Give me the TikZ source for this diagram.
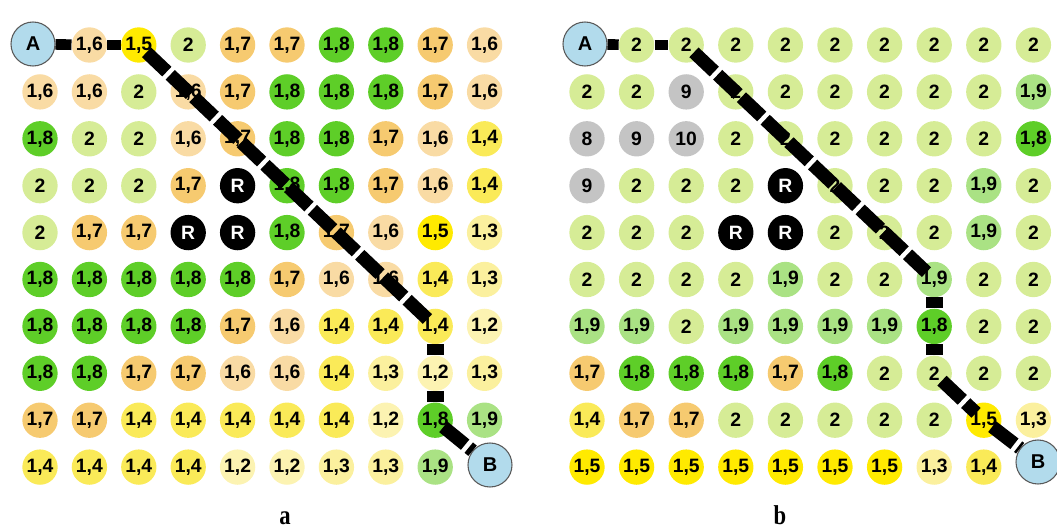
\documentclass[tikz,border=0pt]{standalone}
\usepackage{fontspec}
\setmainfont{Liberation Serif}
\newfontfamily\cellfont{Liberation Sans}
\definecolor{c2}{RGB}{214,236,150}
\definecolor{c19}{RGB}{170,226,132}
\definecolor{c18}{RGB}{94,206,40}
\definecolor{c17}{RGB}{246,202,112}
\definecolor{c16}{RGB}{249,219,164}
\definecolor{c15}{RGB}{255,234,0}
\definecolor{c14}{RGB}{250,234,88}
\definecolor{c13}{RGB}{251,240,158}
\definecolor{c12}{RGB}{252,243,178}
\definecolor{cR}{RGB}{0,0,0}
\definecolor{cg8}{RGB}{196,196,196}
\definecolor{cg9}{RGB}{196,196,196}
\definecolor{cg10}{RGB}{196,196,196}
\definecolor{cab}{RGB}{178,219,236}
\expandafter\def\csname lab2\endcsname{2}
\expandafter\def\csname lab19\endcsname{1,9}
\expandafter\def\csname lab18\endcsname{1,8}
\expandafter\def\csname lab17\endcsname{1,7}
\expandafter\def\csname lab16\endcsname{1,6}
\expandafter\def\csname lab15\endcsname{1,5}
\expandafter\def\csname lab14\endcsname{1,4}
\expandafter\def\csname lab13\endcsname{1,3}
\expandafter\def\csname lab12\endcsname{1,2}
\expandafter\def\csname labR\endcsname{\textcolor{white}{R}}
\expandafter\def\csname labg8\endcsname{8}
\expandafter\def\csname labg9\endcsname{9}
\expandafter\def\csname labg10\endcsname{10}
\def\cellX{X}
\def\rowsA{{X,16,15,2,17,17,18,18,17,16},
{16,16,2,16,17,18,18,18,17,16},
{18,2,2,16,17,18,18,17,16,14},
{2,2,2,17,R,18,18,17,16,14},
{2,17,17,R,R,18,17,16,15,13},
{18,18,18,18,18,17,16,16,14,13},
{18,18,18,18,17,16,14,14,14,12},
{18,18,17,17,16,16,14,13,12,13},
{17,17,14,14,14,14,14,12,18,19},
{14,14,14,14,12,12,13,13,19,X}}
\def\rowsB{{X,2,2,2,2,2,2,2,2,2},
{2,2,g9,2,2,2,2,2,2,19},
{g8,g9,g10,2,2,2,2,2,2,18},
{g9,2,2,2,R,2,2,2,19,2},
{2,2,2,R,R,2,2,2,19,2},
{2,2,2,2,19,2,2,19,2,2},
{19,19,2,19,19,19,19,18,2,2},
{17,18,18,18,17,18,2,2,2,2},
{14,17,17,2,2,2,2,2,15,13},
{15,15,15,15,15,15,15,13,14,X}}
\tikzset{
  cell/.style={circle, minimum size=26.5pt, inner sep=0pt, draw=none},
  lbl/.style={font=\cellfont\bfseries\fontsize{14.5}{14.5}\selectfont, inner sep=0pt},
  term/.style={circle, minimum size=33pt, inner sep=0pt, fill=cab, draw=black!65, line width=0.8pt,
    font=\cellfont\bfseries\fontsize{15}{15}\selectfont},
  hroute/.style={line width=8pt, black},
  vroute/.style={line width=13pt, black},
  diag/.style={line width=10pt, black, dash pattern=on 21pt off 3.5pt, shorten <=8pt, shorten >=8pt},
  captext/.style={font=\bfseries\fontsize{17}{17}\selectfont, inner sep=0pt, anchor=base}
}
\begin{document}
\begin{tikzpicture}[x=0.75pt,y=-0.75pt]
\useasboundingbox (0,0) rectangle (1057,528);
% circles of grid a
\foreach \row [count=\i] in \rowsA {
  \foreach \v [count=\j] in \row {
    \edef\cur{\v}
    \ifx\cur\cellX\else
      \node[cell, fill=c\v] (a-\i-\j) at ({40+49.4*(\j-1)},{45+46.9*(\i-1)}) {};
    \fi
  }
}
% circles of grid b
\foreach \row [count=\i] in \rowsB {
  \foreach \v [count=\j] in \row {
    \edef\cur{\v}
    \ifx\cur\cellX\else
      \node[cell, fill=c\v] (b-\i-\j) at ({587+49.6*(\j-1)},{45+46.9*(\i-1)}) {};
    \fi
  }
}
\node[term] (aA) at (33,44) {A};
\node[term] (aB) at (490,465) {B};
\node[term] (bA) at (585,44) {A};
\node[term] (bB) at (1038,462) {B};
% route a
\draw[hroute] (aA) -- (a-1-2);
\draw[hroute] (a-1-2) -- (a-1-3);
\draw[diag] (a-1-3.center) -- (a-2-4.center) -- (a-3-5.center) -- (a-4-6.center)
  -- (a-5-7.center) -- (a-6-8.center) -- (a-7-9.center);
\draw[vroute] (a-7-9) -- (a-8-9);
\draw[vroute] (a-8-9) -- (a-9-9);
\draw[diag, shorten >=0pt] (a-9-9.center) -- (aB);
% route b
\draw[hroute] (bA) -- (b-1-2);
\draw[hroute] (b-1-2) -- (b-1-3);
\draw[diag] (b-1-3.center) -- (b-2-4.center) -- (b-3-5.center) -- (b-4-6.center)
  -- (b-5-7.center) -- (b-6-8.center);
\draw[vroute] (b-6-8) -- (b-7-8);
\draw[vroute] (b-7-8) -- (b-8-8);
\draw[diag] (b-8-8.center) -- (b-9-9.center);
\draw[diag, shorten >=0pt] (b-9-9.center) -- (bB);
% labels
\foreach \row [count=\i] in \rowsA {
  \foreach \v [count=\j] in \row {
    \edef\cur{\v}
    \ifx\cur\cellX\else
      \node[lbl] at (a-\i-\j) {\csname lab\v\endcsname};
    \fi
  }
}
\foreach \row [count=\i] in \rowsB {
  \foreach \v [count=\j] in \row {
    \edef\cur{\v}
    \ifx\cur\cellX\else
      \node[lbl] at (b-\i-\j) {\csname lab\v\endcsname};
    \fi
  }
}
\node[captext] (capa) at (285,524) {\scalebox{1}[1.2]{a}};
\node[captext] (capb) at (780,524) {\scalebox{1}[1.2]{b}};
\end{tikzpicture}
\end{document}
